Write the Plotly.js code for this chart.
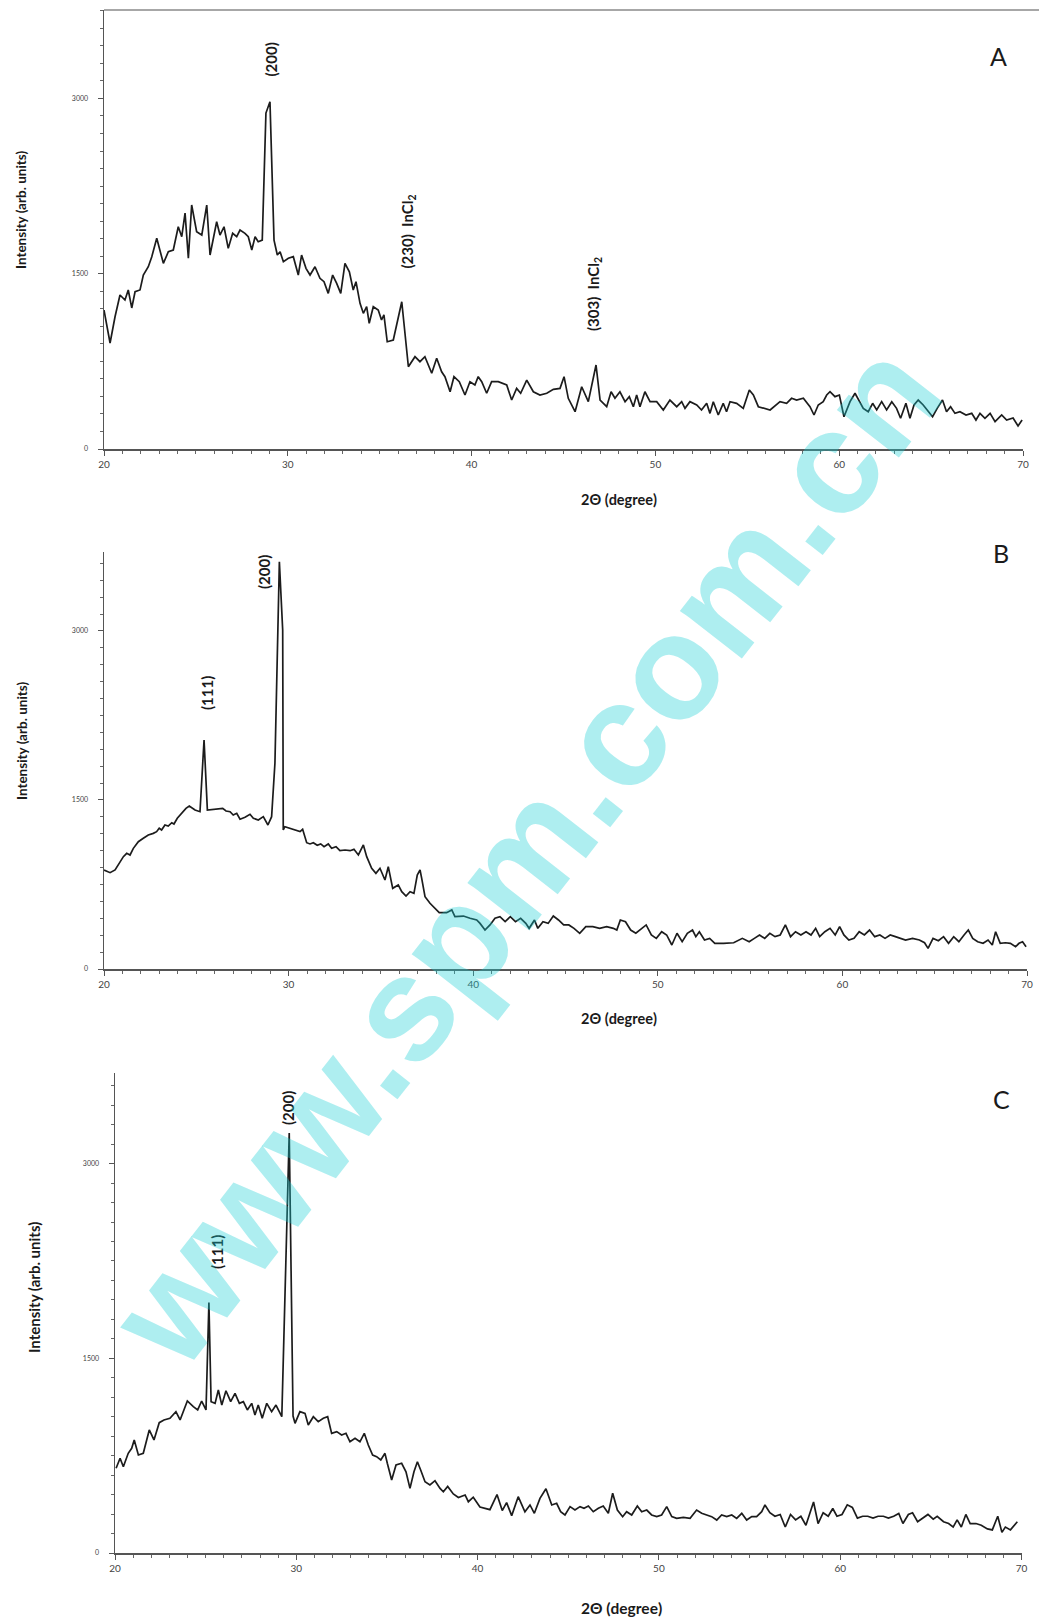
<!DOCTYPE html>
<html>
<head>
<meta charset="utf-8">
<script src="https://cdn.plot.ly/plotly-3.0.1.min.js"></script>
<style>
  html, body { margin: 0; padding: 0; background: #ffffff; }
  #chart { width: 1039px; height: 1619px; }
</style>
</head>
<body>
<div id="chart"></div>
<script>
// ---------- Data ----------
const twoTheta_A = [
  20.0,20.33,20.6,20.87,21.14,21.32,21.51,21.69,21.96,22.14,
  22.41,22.6,22.87,23.05,23.23,23.5,23.77,24.04,24.23,24.41,
  24.59,24.77,25.04,25.32,25.59,25.77,26.13,26.31,26.53,26.76,
  27.0,27.22,27.4,27.67,27.85,28.04,28.22,28.39,28.61,28.81,
  29.03,29.25,29.43,29.58,29.76,30.03,30.3,30.57,30.75,30.99,
  31.21,31.48,31.75,31.97,32.2,32.44,32.66,32.88,33.11,33.35,
  33.56,33.71,33.93,34.11,34.29,34.43,34.65,34.92,35.1,35.23,
  35.41,35.74,36.2,36.56,36.92,37.19,37.46,37.83,38.1,38.37,
  38.55,38.83,39.04,39.33,39.64,39.91,40.18,40.36,40.55,40.82,
  41.09,41.45,41.91,42.18,42.45,42.67,43.0,43.36,43.72,44.09,
  44.45,44.81,45.03,45.26,45.63,45.99,46.35,46.77,46.99,47.35,
  47.59,47.8,48.07,48.35,48.58,48.8,48.98,49.16,49.43,49.71,
  50.07,50.43,50.79,51.16,51.43,51.61,51.88,52.25,52.51,52.79,
  52.97,53.15,53.42,53.69,53.87,54.06,54.42,54.78,55.11,55.33,
  55.6,56.24,56.78,57.14,57.41,57.68,58.05,58.41,58.63,58.86,
  59.13,59.32,59.5,59.77,60.01,60.26,60.59,60.86,61.13,61.31,
  61.58,61.82,62.04,62.31,62.58,62.86,63.12,63.34,63.63,63.85,
  64.07,64.3,64.57,64.85,65.08,65.33,65.62,65.84,66.06,66.3,
  66.57,66.9,67.21,67.44,67.66,67.93,68.21,68.48,68.84,69.11,
  69.46,69.73,69.95
];
const intensity_A = [
  1189,907,1132,1318,1275,1361,1207,1346,1361,1489,
  1560,1646,1803,1688,1589,1688,1703,1902,1817,2019,
  1632,2088,1859,1831,2088,1660,1945,1831,1902,1717,
  1846,1817,1874,1846,1817,1703,1817,1774,1788,2875,
  2972,1788,1660,1688,1603,1632,1646,1489,1660,1546,
  1489,1560,1461,1432,1332,1489,1418,1332,1589,1517,
  1361,1432,1247,1161,1218,1076,1218,1189,1104,1147,
  918,933,1260,704,790,747,790,648,776,661,
  619,490,619,576,462,576,548,619,576,477,
  576,576,548,419,519,477,590,490,462,477,
  511,519,619,434,319,533,405,719,419,362,
  490,434,490,405,448,362,462,362,490,405,
  405,334,419,362,405,348,405,377,334,391,
  305,405,291,391,319,405,391,348,505,462,
  362,334,405,391,434,419,434,362,291,377,
  405,462,490,448,462,276,405,477,391,348,
  319,391,334,405,334,405,348,263,391,263,
  377,419,377,319,276,348,419,319,362,305,
  319,291,305,248,305,263,305,234,291,248,
  265,197,248
];

const twoTheta_B = [
  20.0,20.33,20.6,20.77,21.05,21.23,21.41,21.59,21.86,22.13,
  22.4,22.67,22.85,22.99,23.12,23.3,23.48,23.67,23.79,23.97,
  24.21,24.44,24.62,24.75,24.93,25.2,25.42,25.6,25.92,26.19,
  26.43,26.61,26.83,27.0,27.19,27.37,27.64,27.91,28.09,28.36,
  28.63,28.88,29.08,29.26,29.41,29.5,29.68,29.71,29.8,30.08,
  30.35,30.62,30.76,30.98,31.16,31.34,31.55,31.74,31.92,32.15,
  32.33,32.57,32.78,33.06,33.33,33.54,33.78,34.05,34.23,34.5,
  34.73,34.95,35.22,35.4,35.64,35.94,36.13,36.36,36.58,36.79,
  36.97,37.12,37.21,37.39,37.66,37.93,38.16,38.56,38.84,39.01,
  39.47,39.83,40.19,40.37,40.64,40.91,41.18,41.45,41.73,42.01,
  42.29,42.57,42.85,43.03,43.32,43.5,43.78,44.06,44.34,44.62,
  44.9,45.18,45.46,45.77,46.1,46.48,46.85,47.23,47.59,47.78,
  47.97,48.25,48.53,48.81,49.37,49.65,49.92,50.21,50.48,50.76,
  51.04,51.32,51.6,51.88,52.06,52.25,52.53,52.81,53.09,53.56,
  54.11,54.58,54.95,55.23,55.51,55.79,56.07,56.35,56.63,56.91,
  57.19,57.46,57.75,58.03,58.3,58.55,58.77,59.05,59.33,59.61,
  59.85,60.08,60.35,60.63,60.91,61.19,61.47,61.75,62.03,62.31,
  62.59,62.87,63.15,63.42,63.8,64.17,64.45,64.64,64.91,65.2,
  65.48,65.75,66.03,66.31,66.59,66.82,67.06,67.33,67.62,67.89,
  68.12,68.3,68.55,68.83,69.1,69.38,69.57,69.76,69.95
];
const intensity_B = [
  879,855,879,923,997,1027,1012,1071,1130,1160,
  1189,1204,1219,1249,1234,1278,1269,1298,1287,1338,
  1382,1426,1447,1435,1411,1396,2033,1411,1417,1417,
  1426,1402,1396,1367,1382,1329,1346,1373,1338,1322,
  1352,1278,1352,1828,3009,3615,3009,1234,1263,1249,
  1234,1219,1240,1121,1110,1121,1098,1110,1086,1110,
  1071,1086,1050,1056,1050,1062,1012,1101,997,894,
  849,894,790,908,716,746,686,648,686,672,
  834,879,805,642,583,539,500,500,524,464,
  470,450,435,405,346,391,450,464,420,464,
  420,450,405,361,435,361,420,405,470,435,
  391,391,361,317,376,376,361,376,361,346,
  435,420,346,317,391,302,272,331,302,213,
  317,242,317,346,287,331,257,272,228,228,
  233,272,242,272,302,272,317,287,302,391,
  287,331,302,331,302,361,287,331,361,302,
  376,302,257,272,331,302,346,287,302,272,
  302,287,272,257,272,257,233,183,272,251,
  287,228,287,242,302,346,272,242,228,257,
  213,331,228,233,228,198,228,242,198
];

const twoTheta_C = [
  20.06,20.28,20.46,20.73,20.92,21.06,21.29,21.56,21.89,22.15,
  22.44,22.7,23.03,23.36,23.59,23.99,24.32,24.56,24.78,25.02,
  25.18,25.3,25.52,25.7,25.89,26.12,26.38,26.62,26.86,27.08,
  27.3,27.54,27.72,27.9,28.12,28.37,28.64,28.88,29.2,29.61,
  29.82,29.93,30.2,30.48,30.66,30.94,31.21,31.49,31.73,31.95,
  32.23,32.5,32.74,32.96,33.24,33.51,33.75,33.97,34.21,34.43,
  34.66,34.89,35.02,35.26,35.5,35.81,36.05,36.27,36.49,36.68,
  36.86,37.1,37.37,37.65,37.93,38.11,38.35,38.66,38.94,39.31,
  39.49,39.76,40.13,40.68,41.07,41.36,41.6,41.88,42.24,42.61,
  42.89,43.13,43.44,43.77,44.09,44.36,44.58,44.82,45.1,45.37,
  45.65,45.87,46.11,46.38,46.66,46.93,47.21,47.45,47.71,48.0,
  48.22,48.5,48.81,49.05,49.33,49.6,49.88,50.15,50.43,50.71,
  50.98,51.35,51.72,52.08,52.36,52.64,52.91,53.19,53.46,53.74,
  54.02,54.29,54.57,54.84,55.12,55.39,55.67,55.85,56.12,56.4,
  56.69,56.97,57.26,57.54,57.83,58.11,58.3,58.53,58.78,59.06,
  59.34,59.59,59.82,60.1,60.39,60.67,60.95,61.24,61.52,61.81,
  62.09,62.38,62.66,62.95,63.23,63.46,63.76,63.99,64.27,64.56,
  64.84,65.13,65.35,65.7,65.98,66.23,66.45,66.68,66.93,67.17,
  67.49,67.78,68.12,68.39,68.69,68.92,69.11,69.39,69.58,69.77
];
const intensity_C = [
  653,730,665,768,807,871,755,768,948,871,
  1004,1025,1038,1089,1025,1171,1127,1102,1171,1102,
  1930,1166,1153,1256,1140,1250,1166,1230,1153,1166,
  1102,1153,1063,1140,1038,1153,1089,1140,1050,3236,
  1055,999,1089,1076,986,1050,1012,1038,1050,922,
  935,909,922,857,884,857,922,832,755,742,
  717,768,691,562,678,691,626,498,626,703,
  639,549,524,557,498,472,513,455,428,447,
  395,430,354,334,450,327,388,288,434,318,
  370,306,421,495,370,383,318,293,357,331,
  357,344,362,318,344,362,306,460,331,280,
  318,293,362,318,331,293,280,293,357,280,
  267,275,267,331,306,293,280,254,293,280,
  293,267,306,254,280,280,318,370,310,283,
  297,200,297,255,283,214,297,393,227,310,
  283,343,283,297,371,351,269,283,283,269,
  283,283,269,283,304,227,297,310,241,269,
  297,260,283,241,227,200,255,200,297,227,
  227,214,186,178,283,159,200,178,214,241
];

const xTickVals = [20, 30, 40, 50, 60, 70];
const yTickVals = [0, 1500, 3000];
const panelLabels = ["A", "B", "C"];
const xTitle = "2Θ (degree)";
const yTitle = "Intensity (arb. units)";
const watermark = "www.spm.com.cn";

// ---------- Layout helpers (pixel -> paper) ----------
const W = 1039, H = 1619;
const px = v => v / W;
const py = v => 1 - v / H;
const FONT = "Lato, 'Open Sans', sans-serif";

const lineStyle = { color: "#1c1c1c", width: 1.7 };
const traces = [
  { x: twoTheta_A, y: intensity_A, xaxis: "x",  yaxis: "y",  type: "scatter", mode: "lines", line: lineStyle, hoverinfo: "skip" },
  { x: twoTheta_B, y: intensity_B, xaxis: "x2", yaxis: "y2", type: "scatter", mode: "lines", line: lineStyle, hoverinfo: "skip" },
  { x: twoTheta_C, y: intensity_C, xaxis: "x3", yaxis: "y3", type: "scatter", mode: "lines", line: lineStyle, hoverinfo: "skip" }
];

function xAxis(l, r, anchor) {
  return {
    domain: [px(l), px(r)], range: [20, 70], anchor: anchor,
    showline: true, linecolor: "#555", linewidth: 1.5, mirror: false,
    showgrid: false, zeroline: false,
    ticks: "outside", ticklen: 5, tickwidth: 1, tickcolor: "#555",
    tickmode: "array", tickvals: xTickVals, ticktext: xTickVals.map(String),
    tickfont: { family: FONT, size: 10, color: "#444" },
    minor: { dtick: 1, tick0: 20, ticks: "outside", ticklen: 3, tickcolor: "#666", showgrid: false }
  };
}
function yAxis(top, bottom, ymax, anchor) {
  return {
    domain: [py(bottom), py(top)], range: [0, ymax], anchor: anchor,
    showline: true, linecolor: "#555", linewidth: 1.5,
    showgrid: false, zeroline: false,
    ticks: "outside", ticklen: 5, tickwidth: 1, tickcolor: "#555",
    tickmode: "array", tickvals: yTickVals, ticktext: yTickVals.map(String),
    tickfont: { family: FONT, size: 7, color: "#444" },
    ticklabelstandoff: 8,
    minor: { dtick: 150, tick0: 0, ticks: "outside", ticklen: 3, tickcolor: "#666", showgrid: false }
  };
}

function rotText(text, x, y, size) {
  return { text: text, x: px(x), y: py(y), xref: "paper", yref: "paper",
           showarrow: false, textangle: -90, xanchor: "center", yanchor: "middle",
           font: { family: FONT, size: size, color: "#1a1a1a", weight: "bold" } };
}
function flatText(text, x, y, size, bold) {
  return { text: text, x: px(x), y: py(y), xref: "paper", yref: "paper",
           showarrow: false, xanchor: "center", yanchor: "middle",
           font: { family: FONT, size: size, color: "#1a1a1a", weight: bold ? "bold" : "normal" } };
}

const annotations = [
  // axis titles
  rotText(yTitle, 21, 210, 13.5),
  rotText(yTitle, 22, 741, 13.5),
  rotText(yTitle, 34, 1288, 15),
  flatText(xTitle, 619, 499, 14.5, true),
  flatText(xTitle, 619, 1018, 14.5, true),
  flatText(xTitle, 621, 1608, 15.5, true),
  // panel letters
  flatText(panelLabels[0], 998, 56, 25, false),
  flatText(panelLabels[1], 1001, 553, 25, false),
  flatText(panelLabels[2], 1001, 1099, 25, false),
  // peak labels
  rotText("(200)", 270.5, 60, 15),
  rotText("(230)  InCl<sub>2</sub>", 407.5, 232, 15),
  rotText("(303)  InCl<sub>2</sub>", 593.5, 294.5, 15),
  rotText("(111)", 207, 693, 15),
  rotText("(200)", 264, 572, 15),
  rotText("(111)", 217, 1252, 15),
  rotText("(200)", 288, 1108, 15),
  // watermark
  { text: watermark, x: px(524), y: py(853), xref: "paper", yref: "paper",
    showarrow: false, textangle: -52, xanchor: "center", yanchor: "middle",
    font: { family: "'Liberation Sans', Arial, sans-serif", size: 148, weight: "bold",
            color: "rgba(24,206,212,0.35)" } }
];

const layout = {
  width: W, height: H,
  margin: { l: 0, r: 0, t: 0, b: 0 },
  paper_bgcolor: "#ffffff", plot_bgcolor: "rgba(0,0,0,0)",
  showlegend: false,
  xaxis:  xAxis(104, 1023, "y"),
  yaxis:  yAxis(10, 449, 3757, "x"),
  xaxis2: xAxis(104, 1027, "y2"),
  yaxis2: yAxis(552, 969, 3701, "x2"),
  xaxis3: xAxis(115, 1021.5, "y3"),
  yaxis3: yAxis(1072.5, 1553, 3702, "x3"),
  shapes: [
    { type: "line", xref: "paper", yref: "paper", x0: px(104), x1: 1, y0: py(10), y1: py(10),
      line: { color: "#8a8a8a", width: 1.5 } }
  ],
  annotations: annotations
};

Plotly.newPlot("chart", traces, layout, { displayModeBar: false, staticPlot: true });
</script>
</body>
</html>
